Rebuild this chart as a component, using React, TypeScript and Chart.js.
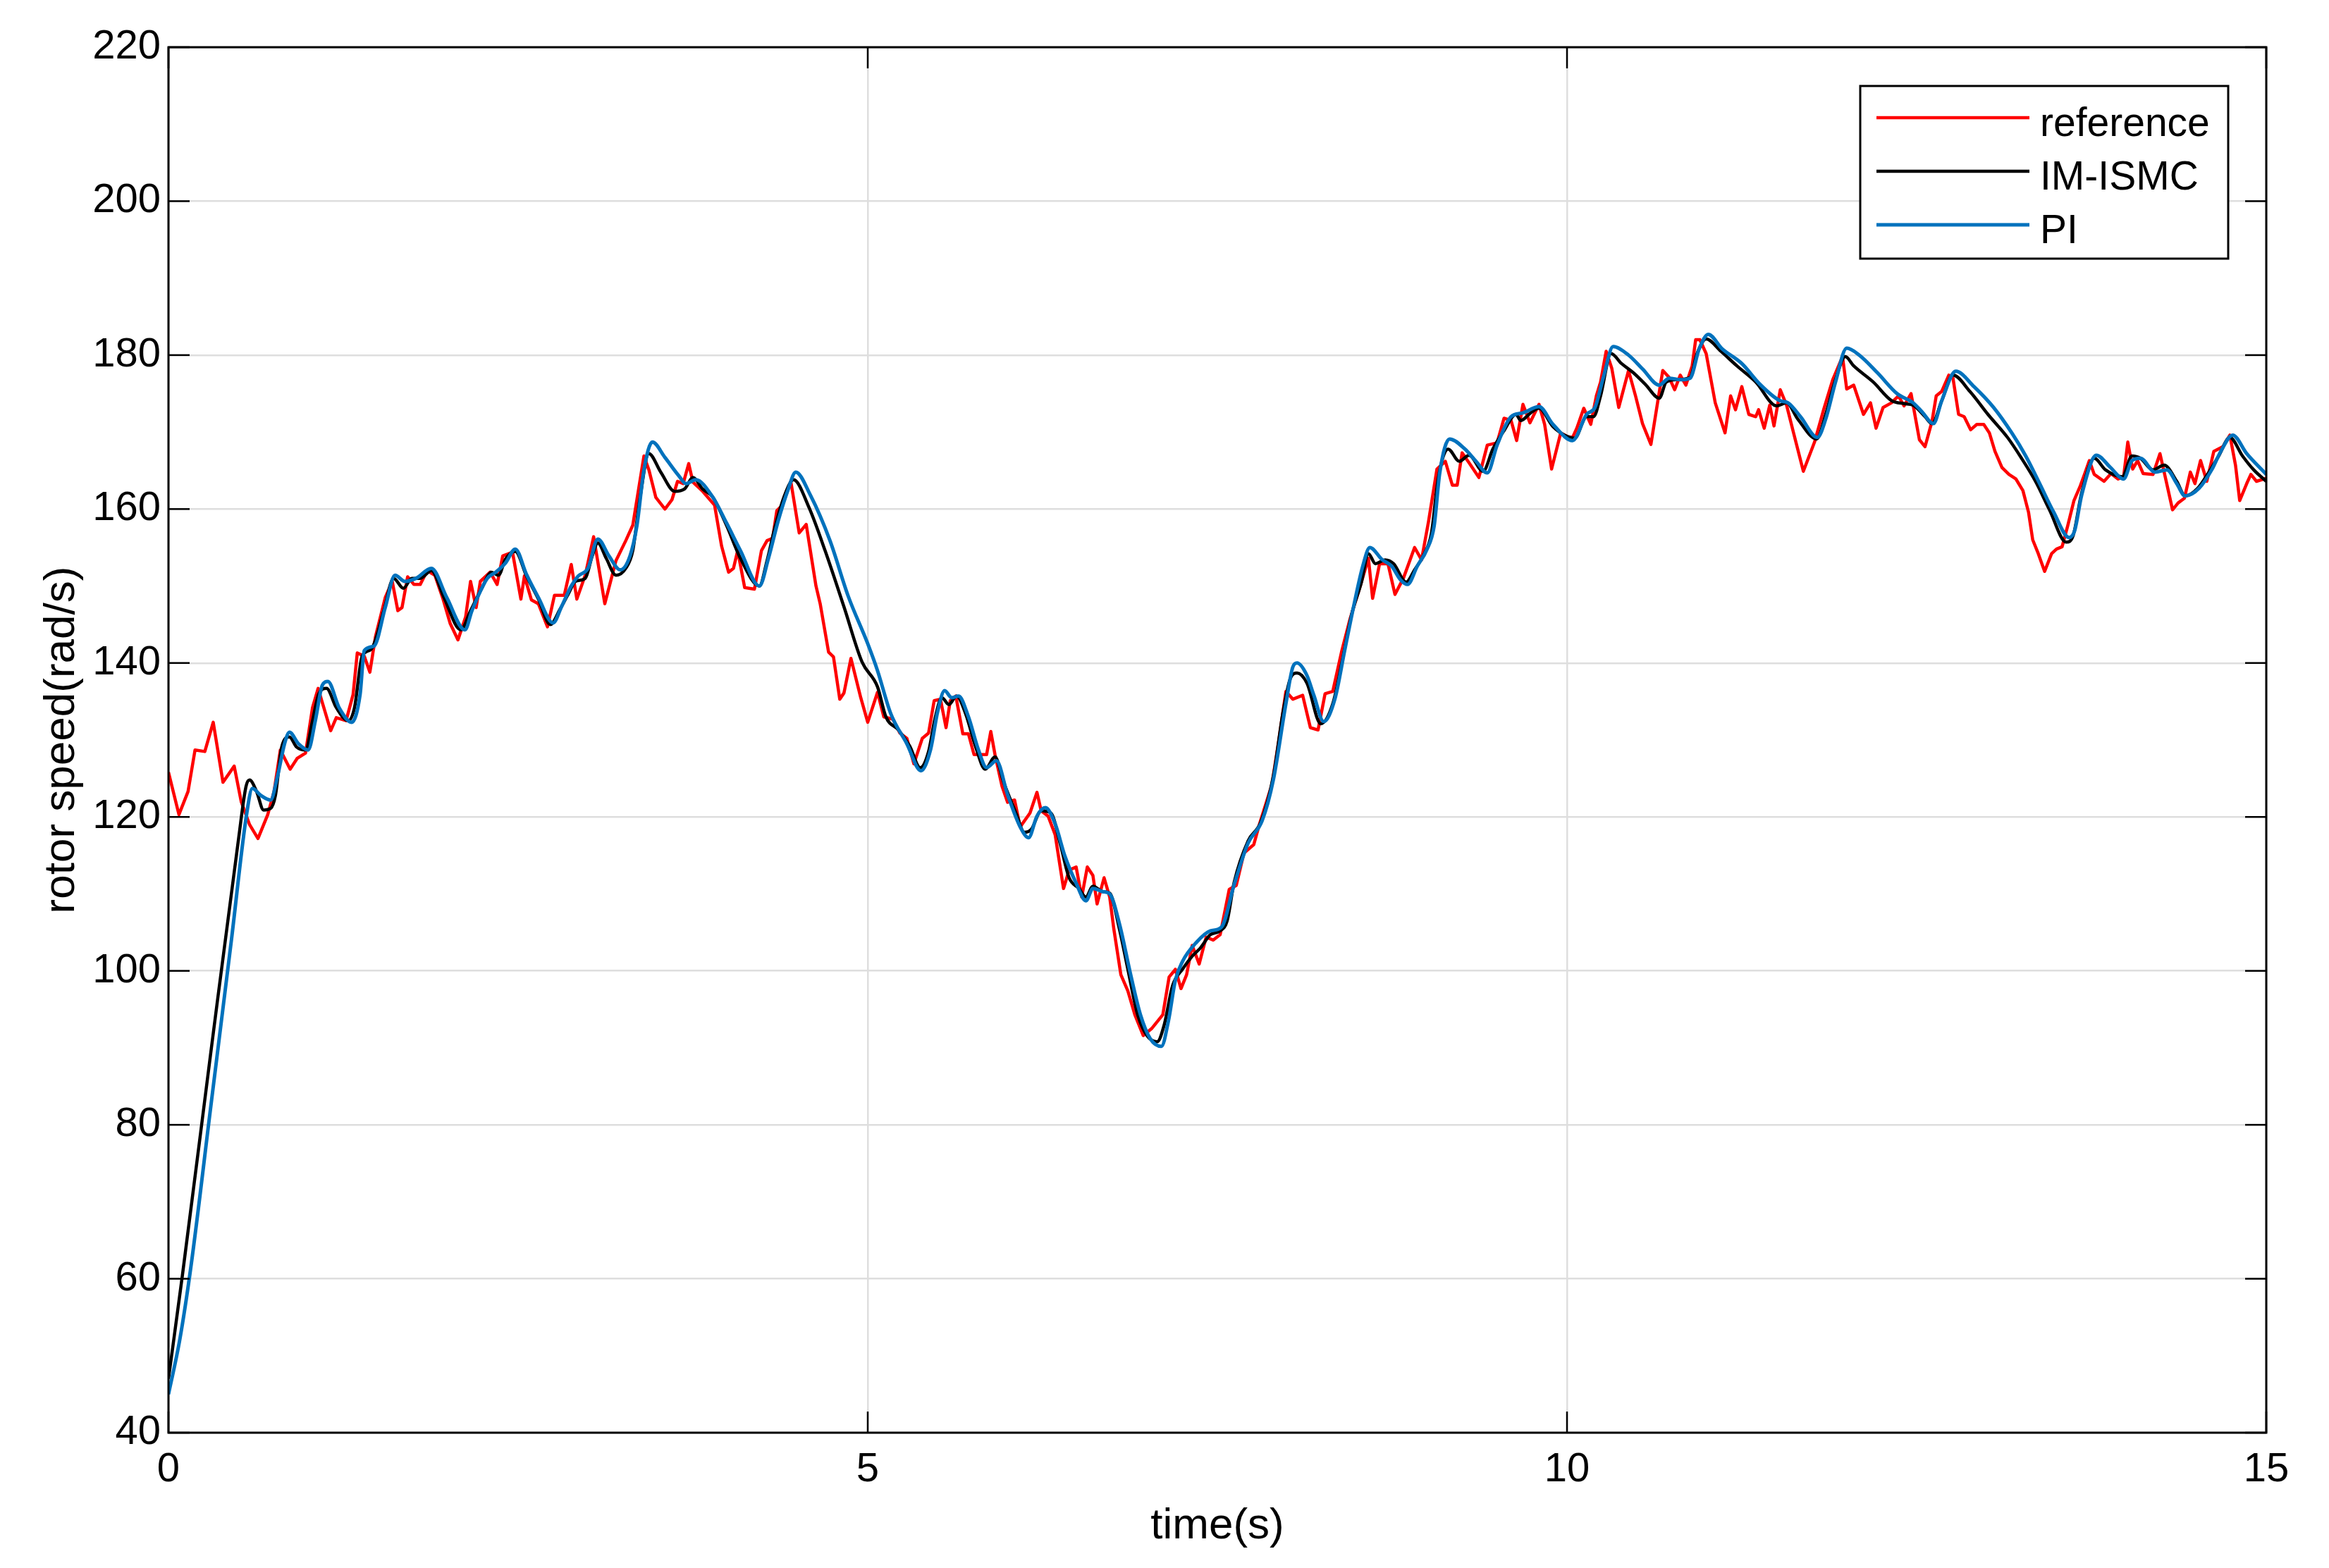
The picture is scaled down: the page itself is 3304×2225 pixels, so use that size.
import React, { useEffect, useRef } from "react";
import { Chart, registerables } from "chart.js";

Chart.register(...registerables);

// ---- data ----
const refT = [0, 0.075, 0.14, 0.19, 0.26, 0.32, 0.39, 0.47, 0.52, 0.58, 0.64, 0.71, 0.755, 0.8, 0.87, 0.92, 0.98, 1.03, 1.07, 1.16, 1.2, 1.27, 1.32, 1.35, 1.4, 1.44, 1.48, 1.55, 1.6, 1.64, 1.67, 1.71, 1.755, 1.8, 1.85, 1.905, 1.96, 2.015, 2.07, 2.125, 2.16, 2.2, 2.23, 2.3, 2.35, 2.39, 2.46, 2.52, 2.545, 2.595, 2.645, 2.71, 2.76, 2.83, 2.88, 2.92, 2.98, 3.04, 3.12, 3.2, 3.27, 3.32, 3.4, 3.435, 3.485, 3.55, 3.6, 3.64, 3.68, 3.72, 3.75, 3.82, 3.905, 3.955, 4.005, 4.04, 4.07, 4.12, 4.19, 4.24, 4.28, 4.32, 4.35, 4.39, 4.45, 4.51, 4.56, 4.63, 4.66, 4.72, 4.755, 4.8, 4.83, 4.88, 4.95, 5.0, 5.07, 5.115, 5.18, 5.23, 5.28, 5.33, 5.39, 5.435, 5.475, 5.52, 5.56, 5.59, 5.63, 5.68, 5.72, 5.76, 5.85, 5.88, 5.91, 5.96, 6.0, 6.05, 6.09, 6.16, 6.21, 6.24, 6.29, 6.34, 6.4, 6.44, 6.49, 6.53, 6.57, 6.61, 6.64, 6.69, 6.73, 6.76, 6.81, 6.86, 6.91, 6.97, 7.03, 7.11, 7.155, 7.2, 7.24, 7.28, 7.32, 7.37, 7.42, 7.47, 7.52, 7.585, 7.635, 7.69, 7.76, 7.8, 7.89, 7.94, 7.99, 8.04, 8.11, 8.165, 8.22, 8.27, 8.325, 8.39, 8.45, 8.53, 8.58, 8.61, 8.66, 8.72, 8.77, 8.83, 8.91, 8.96, 9.01, 9.07, 9.13, 9.18, 9.215, 9.25, 9.3, 9.37, 9.43, 9.5, 9.55, 9.6, 9.64, 9.685, 9.735, 9.8, 9.84, 9.89, 9.955, 10.005, 10.04, 10.07, 10.12, 10.17, 10.21, 10.24, 10.28, 10.32, 10.37, 10.44, 10.49, 10.54, 10.6, 10.65, 10.685, 10.73, 10.77, 10.81, 10.85, 10.895, 10.92, 10.95, 10.995, 11.06, 11.13, 11.17, 11.205, 11.25, 11.3, 11.35, 11.37, 11.41, 11.45, 11.48, 11.525, 11.57, 11.62, 11.69, 11.77, 11.835, 11.9, 11.97, 12.0, 12.05, 12.12, 12.17, 12.21, 12.26, 12.32, 12.37, 12.41, 12.46, 12.52, 12.56, 12.61, 12.64, 12.68, 12.73, 12.76, 12.8, 12.84, 12.886, 12.93, 12.98, 13.02, 13.06, 13.11, 13.16, 13.21, 13.26, 13.3, 13.33, 13.37, 13.415, 13.465, 13.5, 13.54, 13.58, 13.625, 13.67, 13.7, 13.735, 13.77, 13.84, 13.89, 13.94, 13.98, 14.01, 14.045, 14.08, 14.12, 14.19, 14.24, 14.27, 14.33, 14.37, 14.415, 14.457, 14.49, 14.53, 14.575, 14.625, 14.69, 14.74, 14.78, 14.81, 14.86, 14.89, 14.93, 15.0];
const refV = [125.8, 120.3, 123.3, 128.7, 128.5, 132.3, 124.5, 126.6, 122, 119, 117.2, 120.3, 123.3, 128.7, 126.2, 127.6, 128.3, 134.2, 136.7, 131.2, 132.9, 132.5, 135.9, 141.3, 140.9, 138.8, 143.4, 148.5, 150.6, 146.8, 147.2, 151.2, 150.2, 150.2, 152, 151.4, 148.5, 145.1, 143, 146, 150.6, 147.2, 150.6, 151.8, 150.2, 153.9, 154.4, 148.3, 151.3, 148.2, 147.7, 144.7, 148.8, 148.8, 152.8, 148.3, 151.4, 156.4, 147.7, 153.3, 155.9, 157.9, 166.9, 165.1, 161.5, 160, 161.2, 163.6, 163.3, 165.9, 163.5, 162.3, 160.5, 155.2, 151.8, 152.3, 154.6, 149.8, 149.6, 154.6, 155.9, 156.2, 159.8, 160.5, 163.6, 156.9, 158, 150, 147.7, 141.4, 140.8, 135.3, 136.1, 140.6, 135.5, 132.3, 136.2, 133, 132.7, 130.9, 130.2, 126.9, 130.2, 130.9, 135.1, 135.3, 131.6, 135.1, 135.7, 130.8, 130.8, 128.1, 128.1, 131.1, 128.1, 124, 121.9, 122.2, 118.7, 120.5, 123.2, 120.8, 120.1, 117.7, 110.7, 113.1, 113.5, 109.6, 113.5, 112.4, 108.7, 112.1, 109.6, 105.4, 99.5, 97.4, 94.3, 91.6, 92.5, 94.3, 99.2, 100.2, 97.7, 99.5, 103.3, 100.9, 104.4, 104, 104.7, 110.6, 111.1, 115.3, 116.4, 119, 124.2, 130, 136.3, 135.3, 135.8, 131.6, 131.3, 136, 136.3, 141.6, 145.8, 150.5, 153.6, 148.4, 152.9, 152.9, 148.9, 151, 155, 153.4, 158.4, 165.2, 166.2, 163.1, 163.1, 167.3, 166, 164.1, 168.3, 168.6, 171.8, 171.5, 168.9, 173.6, 171.2, 173.6, 171, 165.2, 169.9, 169.4, 169.3, 170.5, 173.1, 171, 174.7, 176.5, 180.5, 178.3, 173.2, 178, 174.7, 171.1, 168.4, 174.1, 178, 177.1, 175.5, 177.4, 176.1, 178.6, 182, 182, 180.2, 173.8, 169.9, 174.7, 172.9, 175.9, 172.3, 172, 172.9, 170.5, 173.5, 170.8, 175.5, 173.5, 169.9, 164.9, 168.7, 172.9, 176.8, 179.8, 175.6, 176.1, 172.3, 173.8, 170.5, 173.2, 173.8, 174.7, 173.4, 175, 169, 168.1, 171.4, 174.7, 175.3, 177.4, 177, 172.3, 172, 170.3, 171, 171, 169.9, 167.5, 165.4, 164.5, 163.9, 162.4, 159.6, 156, 154.2, 151.9, 154.2, 154.8, 155.1, 157.8, 161.1, 163, 164.5, 166.3, 164.5, 163.6, 164.6, 163.9, 164.2, 168.7, 165.2, 166.3, 164.6, 164.5, 167.2, 164.8, 159.9, 160.8, 161.4, 164.8, 163.3, 166.3, 163.6, 167.5, 168.1, 169.6, 165.7, 161.1, 163.3, 164.5, 163.6, 164];

const ismcT = [0, 0.1, 0.3, 0.5, 0.555, 0.58, 0.63, 0.68, 0.73, 0.765, 0.81, 0.865, 0.915, 0.98, 1.03, 1.075, 1.13, 1.2, 1.285, 1.33, 1.385, 1.45, 1.54, 1.61, 1.68, 1.74, 1.8, 1.88, 1.97, 2.09, 2.16, 2.24, 2.31, 2.36, 2.41, 2.48, 2.56, 2.645, 2.73, 2.8, 2.86, 2.91, 2.98, 3.03, 3.07, 3.13, 3.2, 3.27, 3.32, 3.37, 3.435, 3.52, 3.62, 3.69, 3.75, 3.82, 3.89, 3.99, 4.09, 4.225, 4.28, 4.34, 4.41, 4.47, 4.58, 4.695, 4.83, 4.96, 5.07, 5.13, 5.22, 5.3, 5.375, 5.435, 5.48, 5.53, 5.58, 5.635, 5.7, 5.77, 5.84, 5.91, 5.97, 6.06, 6.12, 6.17, 6.24, 6.31, 6.375, 6.44, 6.51, 6.56, 6.61, 6.68, 6.73, 6.8, 6.86, 6.93, 7.0, 7.07, 7.12, 7.18, 7.25, 7.32, 7.38, 7.45, 7.52, 7.57, 7.62, 7.72, 7.81, 7.9, 7.97, 8.02, 8.07, 8.14, 8.24, 8.325, 8.39, 8.46, 8.53, 8.58, 8.63, 8.7, 8.76, 8.85, 8.91, 8.98, 9.03, 9.08, 9.15, 9.23, 9.3, 9.4, 9.47, 9.55, 9.635, 9.67, 9.74, 9.8, 9.9, 10.005, 10.055, 10.14, 10.19, 10.24, 10.315, 10.39, 10.475, 10.56, 10.66, 10.71, 10.79, 10.88, 10.93, 10.995, 11.1, 11.215, 11.35, 11.5, 11.57, 11.65, 11.785, 11.85, 11.92, 11.99, 12.05, 12.19, 12.32, 12.41, 12.475, 12.56, 12.61, 12.68, 12.76, 12.88, 13.01, 13.15, 13.25, 13.35, 13.45, 13.57, 13.62, 13.68, 13.77, 13.85, 13.97, 14.04, 14.1, 14.19, 14.27, 14.36, 14.42, 14.51, 14.59, 14.66, 14.74, 14.83, 14.91, 15.0];
const ismcV = [47, 60.5, 89, 117, 124, 124.8, 123.3, 120.9, 121.1, 122.8, 129.1, 130.4, 129.1, 128.7, 132.5, 136, 136.7, 134.2, 132.5, 134.2, 140.9, 141.8, 146.8, 151, 149.7, 151, 151, 152, 148.5, 144.3, 146.8, 149.7, 151.8, 151.4, 153.5, 154.5, 151.3, 148.3, 145, 147, 149, 150.6, 151, 153.9, 155.6, 153.6, 151.4, 152.3, 154.6, 161.2, 167.2, 164.8, 162.3, 162.6, 164.1, 162.6, 161.6, 157.9, 153.6, 150, 153.3, 157.9, 162, 163.8, 160.2, 154.6, 147.3, 140.1, 136.9, 133, 131.3, 129.2, 126.4, 128.5, 132.7, 135.5, 134.6, 135.7, 133.4, 129.2, 126.2, 127.8, 124.6, 120.5, 118, 118.4, 120.8, 120.5, 116.6, 112.1, 110.7, 109.6, 111, 110.3, 110.1, 105.4, 100.2, 94.3, 91.5, 90.8, 93, 98.1, 100.2, 101.9, 103, 104.7, 105.2, 106.5, 111.5, 116.9, 119.3, 125.3, 133.7, 137.9, 138.7, 137.4, 132.1, 134.7, 140, 146.3, 150.5, 154.2, 152.9, 153.4, 152.9, 150.5, 152.1, 154.2, 156.8, 164.1, 167.8, 166.2, 167, 164.9, 167.8, 170.2, 172.3, 171.5, 172.5, 173.1, 170.7, 169.4, 169.2, 172, 172, 174.7, 180.2, 178.9, 177.7, 176.2, 174.4, 176.5, 176.8, 177.1, 180.2, 182.1, 180.5, 178.6, 176.5, 173.4, 173.8, 171.7, 169.1, 172.3, 176.8, 179.8, 178.6, 176.5, 174.1, 173.7, 173.5, 172, 171.1, 174.1, 177.4, 175.3, 172.3, 169.3, 166.6, 163.6, 159.9, 155.7, 156.6, 162.1, 166.6, 165.1, 164.2, 166.9, 166.6, 165.1, 165.7, 163.6, 161.7, 162.7, 164.8, 166.9, 169.3, 166.9, 165.1, 163.6];

const piT = [0, 0.08, 0.16, 0.3, 0.45, 0.56, 0.6, 0.66, 0.73, 0.78, 0.83, 0.865, 0.93, 0.999, 1.05, 1.1, 1.14, 1.22, 1.31, 1.37, 1.4, 1.47, 1.55, 1.62, 1.69, 1.77, 1.88, 1.99, 2.12, 2.17, 2.28, 2.34, 2.41, 2.48, 2.56, 2.645, 2.75, 2.81, 2.88, 2.93, 3.0, 3.07, 3.15, 3.23, 3.3, 3.35, 3.4, 3.46, 3.55, 3.65, 3.7, 3.77, 3.89, 3.99, 4.09, 4.225, 4.29, 4.36, 4.43, 4.485, 4.59, 4.73, 4.86, 5.0, 5.07, 5.165, 5.28, 5.38, 5.45, 5.5, 5.55, 5.6, 5.65, 5.72, 5.79, 5.85, 5.92, 6.0, 6.09, 6.15, 6.21, 6.27, 6.34, 6.41, 6.49, 6.56, 6.61, 6.68, 6.73, 6.8, 6.88, 6.95, 7.02, 7.1, 7.15, 7.2, 7.25, 7.35, 7.45, 7.53, 7.62, 7.72, 7.82, 7.9, 7.99, 8.04, 8.07, 8.14, 8.19, 8.26, 8.34, 8.41, 8.475, 8.54, 8.59, 8.68, 8.745, 8.81, 8.86, 8.93, 8.997, 9.05, 9.09, 9.16, 9.27, 9.35, 9.43, 9.5, 9.6, 9.685, 9.8, 9.9, 10.04, 10.14, 10.2, 10.26, 10.33, 10.44, 10.54, 10.66, 10.73, 10.81, 10.88, 10.945, 11.01, 11.11, 11.25, 11.38, 11.52, 11.58, 11.67, 11.79, 11.85, 11.92, 12.0, 12.09, 12.22, 12.36, 12.475, 12.54, 12.62, 12.68, 12.78, 12.91, 13.05, 13.18, 13.28, 13.38, 13.48, 13.59, 13.63, 13.68, 13.785, 13.886, 13.98, 14.04, 14.1, 14.205, 14.29, 14.36, 14.42, 14.52, 14.61, 14.675, 14.76, 14.86, 15.0];
const piV = [45, 52, 61.5, 82, 104, 120.5, 123.7, 122.8, 122.2, 125.3, 129.5, 131, 129.5, 128.7, 132.5, 137.1, 137.6, 134.2, 132.3, 135.9, 141.6, 142.2, 147.2, 151.4, 150.6, 151, 152.3, 148.5, 144.3, 146.8, 151, 151.8, 153, 154.8, 151.5, 148.5, 145.2, 147.3, 150, 151.3, 152.3, 156.1, 153.9, 152.1, 153.9, 157.9, 165.1, 168.7, 166.7, 164.3, 163.3, 163.8, 161.6, 158.2, 154.6, 150, 153.6, 158.5, 162.5, 164.8, 161.8, 155.9, 148.7, 142.5, 139, 133.4, 129.5, 126, 128.8, 133.7, 136.4, 135.5, 135.7, 133, 128.8, 126.4, 127.3, 122.9, 118.7, 117.3, 120.1, 121.2, 119.1, 114.9, 111.4, 109.1, 110.7, 110.3, 110, 106.1, 99.5, 94.3, 91.2, 90.2, 93.5, 98.8, 101.2, 103.7, 105.2, 105.7, 111.2, 116.6, 119.5, 124.8, 134.7, 139.5, 140, 138.4, 135.8, 132.4, 135.3, 141.6, 147.4, 152.6, 155, 153.4, 152.6, 150.8, 150.2, 152.6, 154.7, 157.8, 164.7, 169.1, 167.8, 166.2, 164.7, 168.3, 172, 172.5, 173.3, 171, 168.9, 172.3, 173.2, 177.1, 181.1, 180, 178.2, 176.1, 177, 176.8, 177, 180.8, 182.7, 180.8, 178.9, 176.2, 174.1, 173.8, 172, 169.3, 171.7, 176.5, 180.9, 180, 177.7, 175, 173.8, 172.6, 171.1, 174.1, 177.9, 175.9, 173.2, 169.9, 166.9, 163.3, 159.6, 156.3, 157.2, 161.8, 167, 165.4, 163.9, 166.3, 166.6, 164.8, 165.1, 163.3, 161.7, 162.7, 165.1, 167.5, 169.6, 167.2, 164.5];

const seriesNames = ["reference", "IM-ISMC", "PI"];
const seriesColors = ["#ff0000", "#000000", "#0072bd"];
const xTicks = [0, 5, 10, 15];
const yTicks = [40, 60, 80, 100, 120, 140, 160, 180, 200, 220];
const xTitle = "time(s)";
const yTitle = "rotor speed(rad/s)";

const FONT = '"Liberation Sans", Arial, Helvetica, sans-serif';
const W = 3304;
const H = 2225;

function toPoints(t: number[], v: number[]) {
  return t.map((x, i) => ({ x, y: v[i] }));
}

const lineWidths = [4.5, 4.5, 5];

const framePlugin = {
  id: "matlabFrame",
  afterDatasetsDraw(chart: any) {
    const { ctx, chartArea: a, scales } = chart;
    ctx.save();
    const seg = (x1: number, y1: number, x2: number, y2: number) => {
      ctx.beginPath();
      ctx.moveTo(x1, y1);
      ctx.lineTo(x2, y2);
      ctx.stroke();
    };
    ctx.strokeStyle = "#000";
    ctx.lineWidth = 2.5;
    const tl = 30;
    for (const v of xTicks) {
      const x = scales.x.getPixelForValue(v);
      seg(x, a.bottom, x, a.bottom - tl);
      seg(x, a.top, x, a.top + tl);
    }
    for (const v of yTicks) {
      const y = scales.y.getPixelForValue(v);
      seg(a.left, y, a.left + tl, y);
      seg(a.right, y, a.right - tl, y);
    }
    ctx.lineWidth = 3;
    ctx.strokeRect(a.left, a.top, a.right - a.left, a.bottom - a.top);

    // legend box (MATLAB style, top-right inside axes)
    const bw = 522;
    const bh = 245;
    const bx = a.right - 54 - bw;
    const by = a.top + 55;
    ctx.fillStyle = "#fff";
    ctx.fillRect(bx, by, bw, bh);
    ctx.lineWidth = 3;
    ctx.strokeStyle = "#000";
    ctx.strokeRect(bx, by, bw, bh);
    ctx.font = `57px ${FONT}`;
    ctx.textBaseline = "middle";
    ctx.textAlign = "left";
    seriesNames.forEach((name, i) => {
      const y = by + 45 + i * 76;
      ctx.strokeStyle = seriesColors[i];
      ctx.lineWidth = lineWidths[i];
      seg(bx + 23, y, bx + 240, y);
      ctx.fillStyle = "#000";
      ctx.fillText(name, bx + 255, y + 10);
    });
    ctx.restore();
  },
};

export default function App() {
  const ref = useRef<HTMLCanvasElement>(null);
  useEffect(() => {
    const canvas = ref.current;
    if (!canvas) return;
    const series = [
      toPoints(refT, refV),
      toPoints(ismcT, ismcV),
      toPoints(piT, piV),
    ];
    const chart = new Chart(canvas, {
      type: "line",
      data: {
        datasets: series.map((data, i) => ({
          label: seriesNames[i],
          data,
          borderColor: seriesColors[i],
          backgroundColor: seriesColors[i],
          borderWidth: lineWidths[i],
          pointRadius: 0,
          fill: false,
          tension: 0,
          cubicInterpolationMode: i === 0 ? "default" : "monotone",
          borderJoinStyle: "round",
          order: 3 - i,
        })) as any,
      },
      options: {
        responsive: false,
        animation: false,
        devicePixelRatio: 1,
        layout: { padding: { left: 0, top: 67, right: 89, bottom: 0 } },
        plugins: {
          legend: { display: false },
          tooltip: { enabled: false },
        },
        scales: {
          x: {
            type: "linear",
            min: 0,
            max: 15,
            afterBuildTicks: (s: any) => {
              s.ticks = xTicks.map((value) => ({ value }));
            },
            ticks: {
              font: { family: FONT, size: 58 },
              color: "#000",
              padding: 18,
              maxRotation: 0,
              autoSkip: false,
            },
            grid: { color: "#dedede", lineWidth: 2.5, drawTicks: false },
            border: { display: false },
            title: {
              display: true,
              text: xTitle,
              color: "#000",
              font: { family: FONT, size: 62 },
              padding: { top: 0, bottom: 22 },
            },
            afterFit: (s: any) => {
              s.height = H - 2033;
            },
          },
          y: {
            type: "linear",
            min: 40,
            max: 220,
            afterBuildTicks: (s: any) => {
              s.ticks = yTicks.map((value) => ({ value }));
            },
            ticks: {
              font: { family: FONT, size: 58 },
              color: "#000",
              padding: 11,
              autoSkip: false,
            },
            grid: { color: "#dedede", lineWidth: 2.5, drawTicks: false },
            border: { display: false },
            title: {
              display: true,
              text: yTitle,
              color: "#000",
              font: { family: FONT, size: 62 },
              padding: { top: 51, bottom: 0 },
            },
            afterFit: (s: any) => {
              s.width = 239;
            },
          },
        },
      } as any,
      plugins: [framePlugin],
    });
    return () => chart.destroy();
  }, []);
  return (
    <div
      style={{
        position: "absolute",
        left: 0,
        top: 0,
        width: W,
        height: H,
        background: "#fff",
      }}
    >
      <canvas
        ref={ref}
        width={W}
        height={H}
        style={{ width: W, height: H, display: "block" }}
      />
    </div>
  );
}
